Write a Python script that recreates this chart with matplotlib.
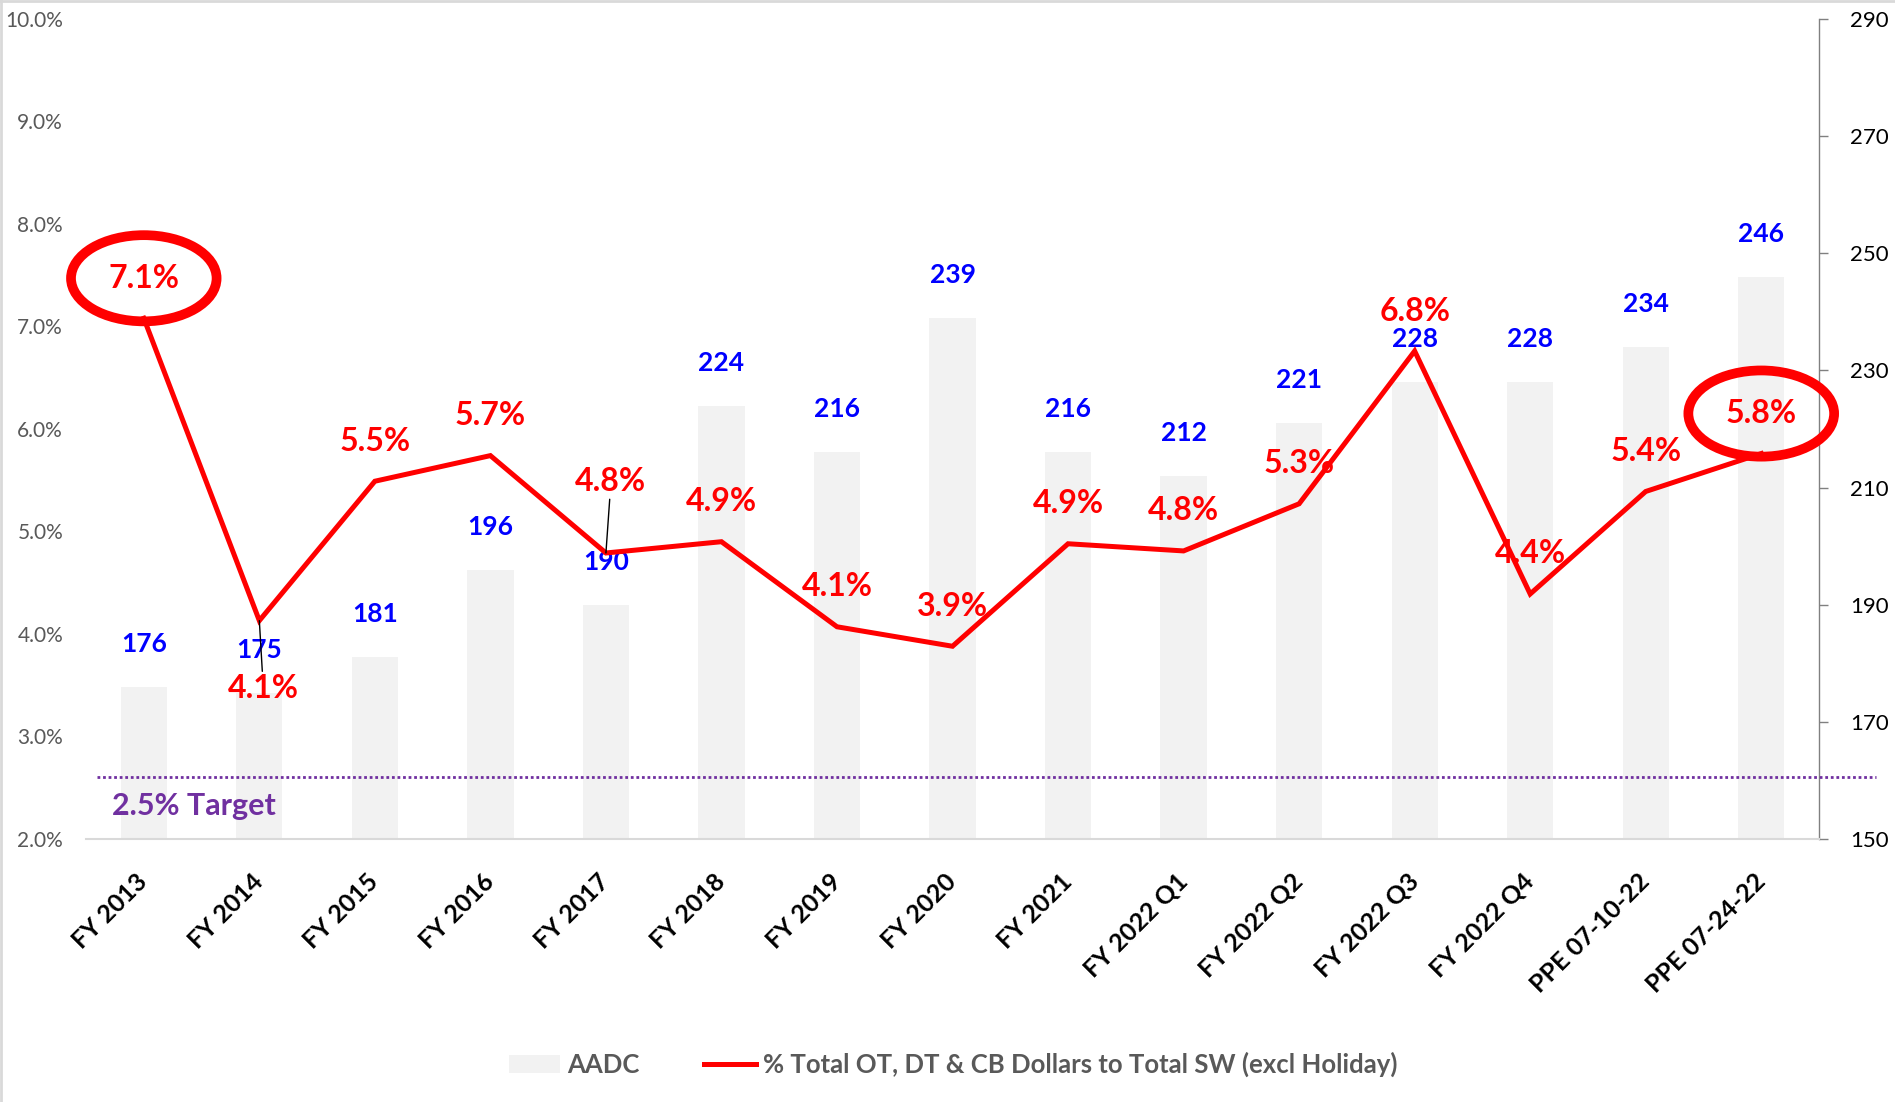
import matplotlib
matplotlib.use('Agg')
import matplotlib.pyplot as plt
from matplotlib.patches import Patch
from matplotlib.lines import Line2D

# data
periods = ['FY 2013', 'FY 2014', 'FY 2015', 'FY 2016', 'FY 2017', 'FY 2018',
           'FY 2019', 'FY 2020', 'FY 2021', 'FY 2022 Q1', 'FY 2022 Q2',
           'FY 2022 Q3', 'FY 2022 Q4', 'PPE 07-10-22', 'PPE 07-24-22']
aadc = [176, 175, 181, 196, 190, 224, 216, 239, 216, 212, 221, 228, 228, 234, 246]
pct_ot = [7.08, 4.13, 5.49, 5.74, 4.79, 4.90, 4.07, 3.88, 4.88, 4.81, 5.27,
          6.76, 4.39, 5.39, 5.76]
target_line = 2.6
target_text = '2.5% Target'
circled = [0, 14]
line_label = '% Total OT, DT & CB Dollars to Total SW (excl Holiday)'

plt.rcParams['font.family'] = ['Lato', 'DejaVu Sans']

red = '#FF0000'
blue = '#0000FF'
purple = '#7030A0'
grey_txt = '#595959'

fig = plt.figure(figsize=(18.95, 11.02), dpi=100)
ax = fig.add_axes([0.0454, 0.2387, 0.9145, 0.7441])
ax2 = ax.twinx()
ax.set_zorder(ax2.get_zorder() + 1)
ax.patch.set_visible(False)

x = list(range(len(periods)))

# bars on the right axis
ax2.bar(x, aadc, width=0.4, color='#F2F2F2', zorder=1)
ax2.set_ylim(150, 290)
ax2.set_yticks(range(150, 291, 20))
ax2.tick_params(axis='y', length=6.5, width=1, color='#808080', pad=16,
                labelsize=16, labelcolor='black')
for s in ['top', 'left', 'bottom']:
    ax2.spines[s].set_visible(False)
ax2.spines['right'].set_color('#808080')
ax2.spines['right'].set_linewidth(1)
for i, v in enumerate(aadc):
    ax2.annotate(str(v), (i, v), xytext=(0, 43), textcoords='offset pixels',
                 ha='center', va='center', color=blue, fontsize=19,
                 fontweight='bold')

# percent line on the left axis
ax.plot(x, pct_ot, color=red, lw=3.6, solid_joinstyle='miter', zorder=3)
ax.set_xlim(-0.5, len(periods) - 0.5)
ax.set_ylim(2, 10)
ax.set_yticks(range(2, 11))
ax.set_yticklabels([f'{v:.1f}%' for v in range(2, 11)])
ax.tick_params(axis='y', length=0, pad=16.5, labelsize=15, labelcolor=grey_txt)
ax.set_xticks(x)
ax.set_xticklabels(periods, rotation=45, ha='right', va='center',
                   rotation_mode='anchor', fontsize=18, fontweight='bold')
ax.tick_params(axis='x', length=0, pad=28)
for s in ['top', 'left', 'right']:
    ax.spines[s].set_visible(False)
ax.spines['bottom'].set_color('#D9D9D9')
ax.spines['bottom'].set_linewidth(1.5)

for i, v in enumerate(pct_ot):
    dx, dy = 0, 40
    leader = None
    if i == 1:
        dx, dy = 4, -68
        leader = dict(arrowstyle='-', color='black', lw=1, shrinkA=0, shrinkB=0)
    if i == 4:
        dx, dy = 5, 71
        leader = dict(arrowstyle='-', color='black', lw=1, shrinkA=0, shrinkB=0)
    box = None
    if i in circled:
        box = dict(boxstyle='ellipse,pad=0.5', fc='none', ec=red, lw=7)
    ax.annotate(f'{v:.1f}%', (i, v), xytext=(dx, dy), textcoords='offset pixels',
                ha='center', va='center', color=red, fontsize=23,
                fontweight='bold', bbox=box, arrowprops=leader, zorder=4)

# target line and its label
ax.axhline(target_line, xmin=0.0063, xmax=1.033, color=purple, lw=2,
           ls=(0, (1, 1)), clip_on=False, zorder=2)
ax.text(0.015, 0.040, target_text, transform=ax.transAxes, ha='left',
        va='center', color=purple, fontsize=22, fontweight='bold')

# legend
handles = [Patch(facecolor='#F2F2F2', label='AADC'),
           Line2D([], [], color=red, lw=3.6, label=line_label)]
fig.legend(handles=handles, loc='center', bbox_to_anchor=(0.503, 0.034),
           ncol=2, frameon=False, prop={'weight': 'bold', 'size': 18.5},
           labelcolor=grey_txt, handlelength=2.0, handletextpad=0.3,
           columnspacing=2.5)

# chart area border (top and left edges visible)
fig.add_artist(Line2D([0, 1], [0.999, 0.999], color='#D9D9D9', lw=2,
                      transform=fig.transFigure))
fig.add_artist(Line2D([0.0005, 0.0005], [0, 1], color='#D9D9D9', lw=2,
                      transform=fig.transFigure))

fig.savefig('out.png', dpi=100)
